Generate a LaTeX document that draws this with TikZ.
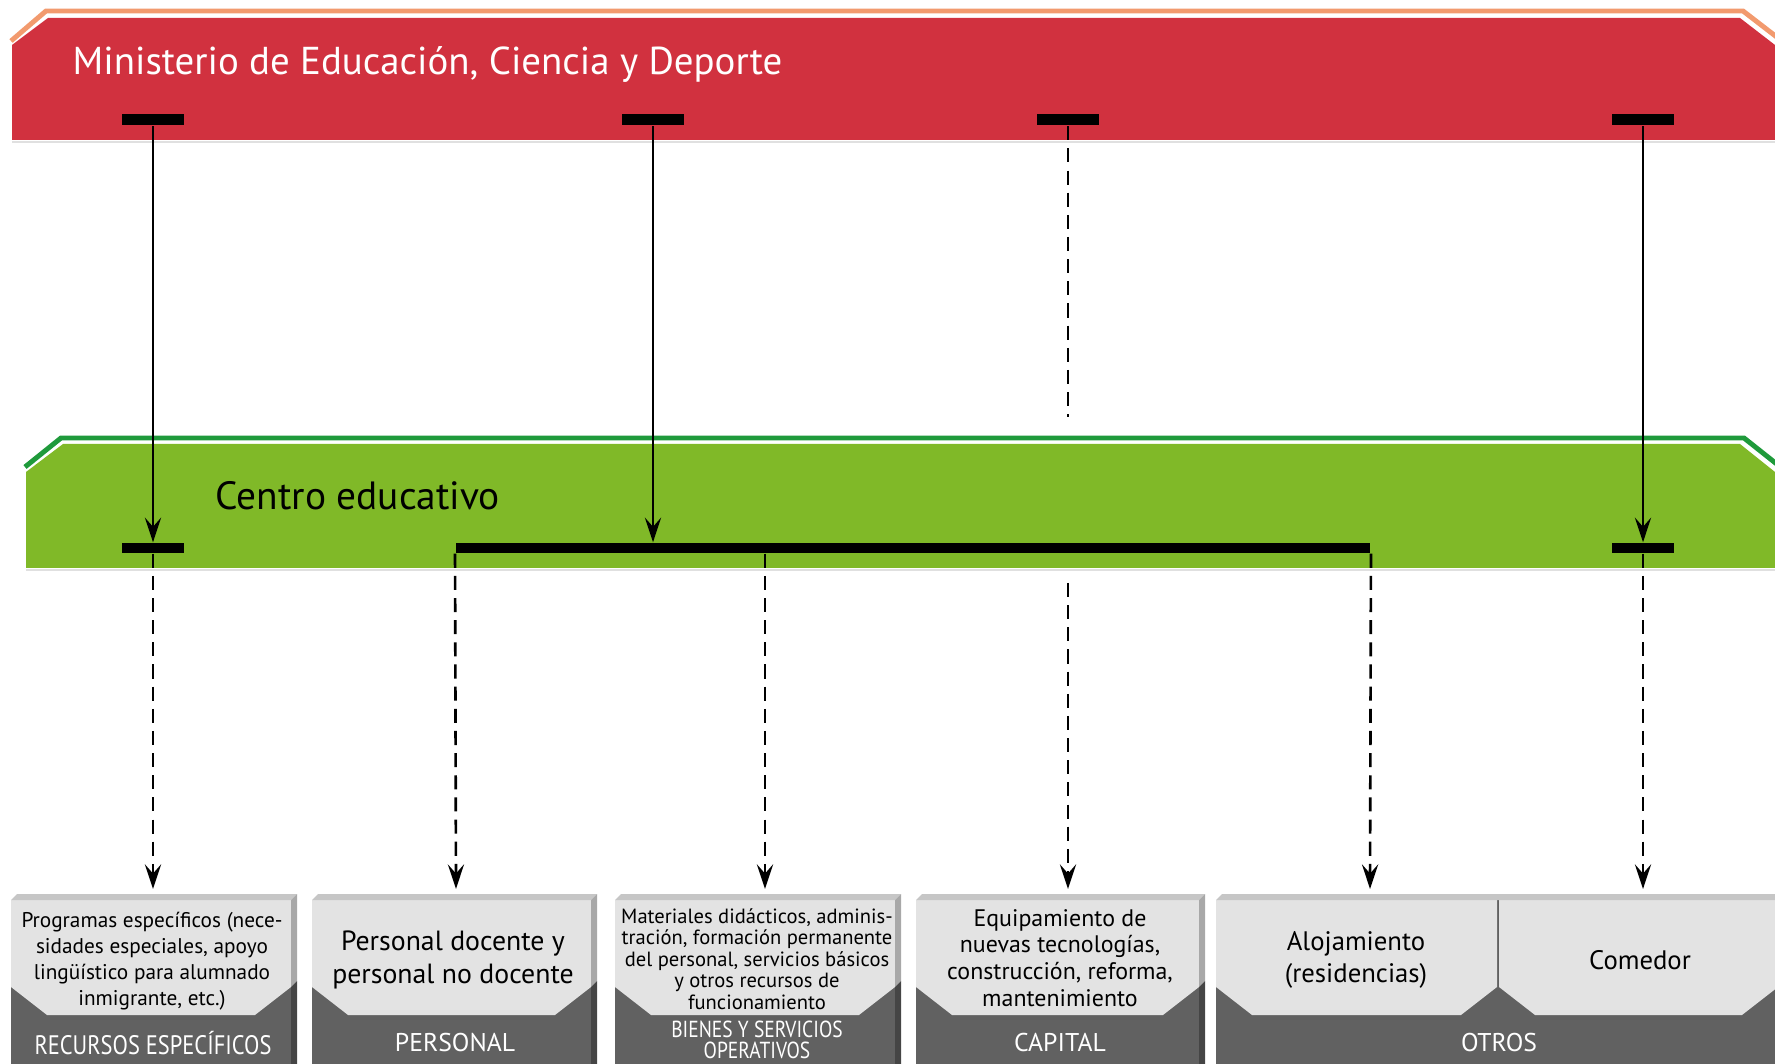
\documentclass[tikz,border=0pt]{standalone}
\usepackage{fontspec}
\setmainfont{PT Sans}
\newfontfamily\narrowfont{PT Sans}[FakeStretch=0.84]
\usetikzlibrary{arrows.meta}
\definecolor{minred}{HTML}{D1313F}
\definecolor{minorange}{HTML}{F29A6E}
\definecolor{cengreen}{HTML}{80B928}
\definecolor{cendark}{HTML}{1F9A3B}
\definecolor{facelight}{HTML}{E3E3E3}
\definecolor{facedark}{HTML}{616161}
\definecolor{bevellight}{HTML}{C6C6C6}
\definecolor{beveldark}{HTML}{454545}

\begin{document}
\begin{tikzpicture}[x=0.01cm,y=-0.01cm,
  bar/.style={fill=black,inner sep=0,minimum width=0.61cm,minimum height=0.11cm},
  longbar/.style={fill=black,inner sep=0,minimum width=9.14cm,minimum height=0.10cm},
  arr/.style={line width=0.75pt,-{Stealth[length=7pt,width=4.6pt,inset=2.6pt]}},
  dasharr/.style={arr,dash pattern=on 4pt off 2.3pt},
  dashline/.style={line width=0.75pt,dash pattern=on 4pt off 2.3pt},
  boxtext/.style={align=center,inner sep=0,text=black},
  tag/.style={align=center,inner sep=0,text=white,font=\fontsize{7.3}{6.2}\selectfont}]
  \clip (0,0) rectangle (1775,1064);
  % bands
  \fill[minred] (12,45) -- (48,18) -- (1740,18) -- (1775,45) -- (1800,45) -- (1800,140) -- (12,140) -- cycle;
  \draw[minorange,line width=1.4pt] (11,41) -- (46,11) -- (1743,11) -- (1778,38);
  \draw[black!12,line width=0.6pt] (12,142) -- (1775,142);
  \fill[cengreen] (26,472) -- (63,444) -- (1740,444) -- (1775,472) -- (1800,472) -- (1800,568) -- (26,568) -- cycle;
  \draw[cendark,line width=1.4pt] (25,467) -- (61,438) -- (1744,438) -- (1778,465);
  \draw[black!12,line width=0.6pt] (26,570) -- (1775,570);
  \node[anchor=base west,inner sep=0,text=white,font=\fontsize{11.05}{13}\selectfont] (min) at (72,75) {Ministerio de Educación, Ciencia y Deporte};
  \node[anchor=base west,inner sep=0,text=black,font=\fontsize{11.2}{13}\selectfont] (cen) at (215,510) {Centro educativo};
  % boxes
  \foreach \l/\r in {11/291,312/591,615/895,916/1199} {
    \fill[facedark] (\l,900) rectangle (\r,1064);
    \fill[facelight] (\l,900) -- (\r,900) -- (\r,987) -- ({\r-36},1015) -- ({\l+36},1015) -- (\l,987) -- cycle;
    \fill[bevellight] (\l,900) -- ({\l+6},894) -- ({\r+6},894) -- (\r,900) -- cycle;
    \fill[bevellight!85!black] (\r,900) -- ({\r+6},894) -- ({\r+6},981) -- (\r,987) -- cycle;
    \fill[beveldark] (\r,987) -- ({\r+6},981) -- ({\r+6},1064) -- (\r,1064) -- cycle;
  }
  \fill[facedark] (1216,900) rectangle (1800,1064);
  \fill[facelight] (1216,900) -- (1497,900) -- (1497,987) -- (1461,1015) -- (1252,1015) -- (1216,987) -- cycle;
  \fill[facelight] (1499,900) -- (1800,900) -- (1800,987) -- (1778,987) -- (1742,1015) -- (1535,1015) -- (1499,987) -- cycle;
  \fill[bevellight] (1216,900) -- (1222,894) -- (1800,894) -- (1800,900) -- cycle;
  % box texts
  \node[boxtext,font=\fontsize{6.05}{7.4}\selectfont] (rec) at (152,961) {Programas específicos (nece-\\sidades especiales, apoyo\\lingüístico para alumnado\\inmigrante, etc.)};
  \node[boxtext,font=\fontsize{7.9}{9.4}\selectfont] (per) at (453,960) {Personal docente y\\personal no docente};
  \node[boxtext,font=\fontsize{5.85}{6.1}\selectfont] (bie) at (757,959) {Materiales didácticos, adminis-\\tración, formación permanente\\del personal, servicios básicos\\y otros recursos de\\funcionamiento};
  \node[boxtext,font=\fontsize{6.8}{7.6}\selectfont] (cap) at (1060,958) {Equipamiento de\\nuevas tecnologías,\\construcción, reforma,\\mantenimiento};
  \node[boxtext,font=\fontsize{7.6}{9.1}\selectfont] (alo) at (1356,960) {Alojamiento\\(residencias)};
  \node[boxtext,font=\fontsize{7.6}{9.1}\selectfont] (com) at (1640,960) {Comedor};
  \node[tag,font=\narrowfont\fontsize{7.6}{6.2}\selectfont] (k1) at (153,1043) {RECURSOS ESPECÍFICOS};
  \node[tag] (k2) at (455,1043) {PERSONAL};
  \node[tag,font=\narrowfont\fontsize{6.6}{6.0}\selectfont] (k3) at (757,1040) {BIENES Y SERVICIOS\\OPERATIVOS};
  \node[tag] (k4) at (1060,1043) {CAPITAL};
  \node[tag] (k5) at (1499,1043) {OTROS};
  % bars
  \node[bar] (m1) at (153,120) {};
  \node[bar] (m2) at (653,120) {};
  \node[bar] (m3) at (1068,120) {};
  \node[bar] (m4) at (1643,120) {};
  \node[bar,minimum height=0.10cm] (c1) at (153,548) {};
  \node[longbar] (c2) at (913,548) {};
  \node[bar,minimum height=0.10cm] (c4) at (1643,548) {};
  \coordinate (up3) at (1068,417);
  \coordinate (lo3) at (1068,583);
  \foreach \n/\x in {1/153,2/456,3/765,4/1068,5/1370,6/1643} \coordinate (t\n) at (\x,889);
  % connectors
  \draw[arr] (m1) -- (c1);
  \draw[arr] (m2) -- (m2 |- c2.north);
  \draw[dashline] (m3) -- (up3);
  \draw[arr] (m4) -- (c4);
  \draw[dasharr] (c1) -- (t1);
  \draw[dasharr] (c2.south west) -- (t2);
  \draw[dasharr] (c2.south -| t3) -- (t3);
  \draw[dasharr] (lo3) -- (t4);
  \draw[dasharr] (c2.south east) -- (t5);
  \draw[dasharr] (c4) -- (t6);
\end{tikzpicture}
\end{document}
